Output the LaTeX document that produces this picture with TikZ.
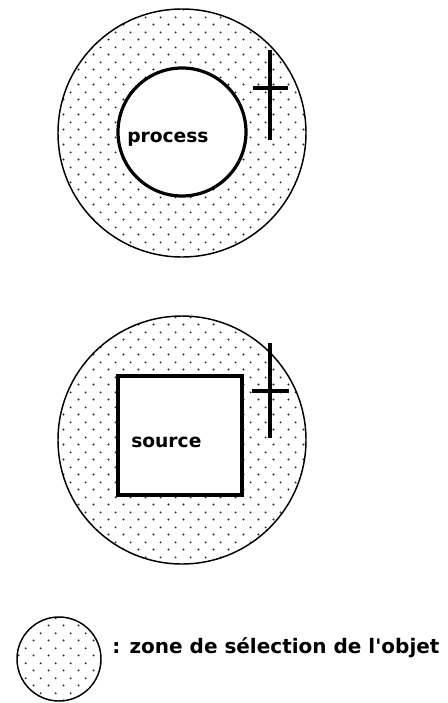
\documentclass[tikz,border=0pt]{standalone}
\usepackage{fontspec}
\usepackage{tikz}
\usetikzlibrary{patterns}
\newfontfamily\labelfont{DejaVu Sans}

% dotted fill of the selection zone
\pgfdeclarepatternformonly{selectdots}{\pgfpointorigin}{\pgfqpoint{11.25pt}{11.25pt}}{\pgfqpoint{11.25pt}{11.25pt}}{%
  \pgfpathcircle{\pgfqpoint{2.8125pt}{2.8125pt}}{0.85pt}%
  \pgfpathcircle{\pgfqpoint{8.4375pt}{8.4375pt}}{0.85pt}%
  \pgfusepath{fill}}

\begin{document}
\begin{tikzpicture}[x=0.75pt, y=-0.75pt,
    zone/.style={draw=black, line width=1.1pt, pattern=selectdots, pattern color=black!85},
    shapeline/.style={draw=black, fill=white, line width=3pt},
    cross/.style={black, line width=3pt},
    objtext/.style={font=\labelfont\bfseries\fontsize{14}{16}\selectfont, inner sep=0pt},
    legendtext/.style={font=\labelfont\bfseries\fontsize{15}{18}\selectfont, inner sep=0pt}]
    \fill[white] (0,0) rectangle (447,703);
    \useasboundingbox (0,0) rectangle (447,703);

    % Process: zone, circle, cross
    \draw[zone] (182,133) circle (124);
    \draw[shapeline, line width=2.4pt] (182,132) circle (64);
    \draw[cross] (270,50) -- (270,140);
    \draw[cross, line width=2.3pt] (253,88) -- (288,88);
    \node[objtext, anchor=base west] (process) at (127,142) {process};

    % Source: zone, square, cross
    \draw[zone] (182,440) circle (124);
    \draw[shapeline] (118,376) rectangle (242,495);
    \draw[cross] (270,343) -- (270,438);
    \draw[cross, line width=2.3pt] (252,391) -- (289,391);
    \node[objtext, anchor=base west] (source) at (131,447) {source};

    % Legend
    \draw[zone] (59,659) circle (42);
    \node[legendtext, anchor=base west] (legend) at (112,653) {: zone de sélection de l'objet};
\end{tikzpicture}
\end{document}
